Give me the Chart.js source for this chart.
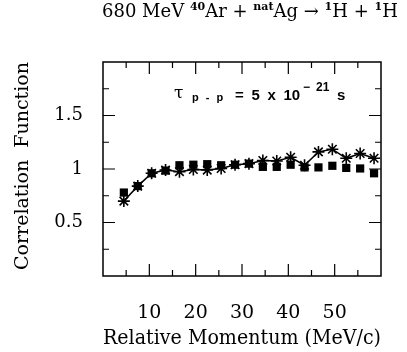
<!DOCTYPE html>
<html>
<head>
<meta charset="utf-8">
<script src="https://cdn.jsdelivr.net/npm/chart.js@4"></script>
<style>
  html, body { margin: 0; padding: 0; background: #fff; }
  #wrap { position: relative; width: 407px; height: 352px; }
  #title { position: absolute; left: 102px; top: -1px; font-family: "DejaVu Serif", serif; font-size: 18px; color: #000; white-space: nowrap; line-height: 24px; }
  #title sup { font-size: 11px; font-weight: bold; vertical-align: 7px; line-height: 0; }
  .n { position: absolute; white-space: nowrap; line-height: 1; color: #000; font-family: "Liberation Sans", sans-serif; font-weight: bold; }
  canvas { position: absolute; left: 0; top: 0; }
</style>
</head>
<body>
<div id="wrap">
  <canvas id="c" width="407" height="352"></canvas>
  <div id="title">680 MeV <sup>40</sup>Ar + <sup>nat</sup>Ag → <sup>1</sup>H + <sup>1</sup>H</div>
  <span class="n" style="left:174px;top:84px;font-family:'DejaVu Serif',serif;font-weight:normal;font-size:17px;">τ</span>
  <span class="n" style="left:192px;top:92px;font-size:11px;word-spacing:4px;">p - p</span>
  <span class="n" style="left:235px;top:87px;font-size:15px;word-spacing:3.5px;">= 5 x 10</span>
  <span class="n" style="left:303px;top:81px;font-size:12px;">−</span>
  <span class="n" style="left:316px;top:81px;font-size:12px;">21</span>
  <span class="n" style="left:337px;top:87px;font-size:15px;">s</span>
</div>
<script>
const momentum = [4.5, 7.5, 10.5, 13.5, 16.5, 19.5, 22.5, 25.5, 28.5, 31.5, 34.5, 37.5, 40.5, 43.5, 46.5, 49.5, 52.5, 55.5, 58.5];
const dataSquares = [0.78, 0.84, 0.96, 0.985, 1.035, 1.04, 1.045, 1.035, 1.04, 1.05, 1.02, 1.02, 1.04, 1.015, 1.015, 1.03, 1.01, 1.005, 0.96];
const modelCrosses = [0.70, 0.84, 0.96, 0.99, 0.975, 0.995, 0.99, 1.005, 1.04, 1.05, 1.08, 1.075, 1.11, 1.035, 1.16, 1.185, 1.10, 1.145, 1.10];
const xTickLabels = [10, 20, 30, 40, 50];
const yTickLabels = [0.5, 1, 1.5];

const frameTicks = {
  id: 'frameTicks',
  afterDraw(chart) {
    const ctx = chart.ctx, a = chart.chartArea;
    const xs = chart.scales.x, ys = chart.scales.y;
    ctx.save();
    ctx.strokeStyle = '#000';
    ctx.lineWidth = 1.5;
    ctx.strokeRect(a.left, a.top, a.right - a.left, a.bottom - a.top);
    ctx.lineWidth = 1.2;
    ctx.beginPath();
    for (let v = 5; v < 60; v += 5) {
      const px = xs.getPixelForValue(v);
      const len = (v % 10 === 0) ? 12 : 6;
      ctx.moveTo(px, a.bottom); ctx.lineTo(px, a.bottom - len);
      ctx.moveTo(px, a.top); ctx.lineTo(px, a.top + len);
    }
    for (let i = 1; i < 8; i++) {
      const v = i * 0.25;
      const py = ys.getPixelForValue(v);
      const len = (i % 2 === 0) ? 12 : 6;
      ctx.moveTo(a.left, py); ctx.lineTo(a.left + len, py);
      ctx.moveTo(a.right, py); ctx.lineTo(a.right - len, py);
    }
    ctx.stroke();
    ctx.restore();
  }
};

const serif = "'DejaVu Serif', serif";
new Chart(document.getElementById('c'), {
  type: 'line',
  data: {
    datasets: [
      {
        label: 'model',
        data: momentum.map((x, i) => ({x, y: modelCrosses[i]})),
        borderColor: '#000',
        borderWidth: 1.5,
        pointStyle: 'star',
        pointRadius: 6,
        pointBorderWidth: 1.6,
        pointBorderColor: '#000',
        fill: false,
        tension: 0,
        order: 2
      },
      {
        label: 'data',
        data: momentum.map((x, i) => ({x, y: dataSquares[i]})),
        showLine: false,
        pointStyle: 'rect',
        pointRadius: 5.8,
        pointBackgroundColor: '#000',
        pointBorderColor: '#000',
        pointBorderWidth: 0,
        order: 1
      }
    ]
  },
  options: {
    responsive: false,
    animation: false,
    events: [],
    layout: { padding: { left: 0, right: 9, top: 62, bottom: 0 } },
    plugins: { legend: { display: false }, tooltip: { enabled: false }, title: { display: false } },
    scales: {
      x: {
        type: 'linear', min: 0, max: 60,
        grid: { display: false, drawTicks: false },
        border: { display: false },
        ticks: {
          stepSize: 10, padding: 26, color: '#000',
          font: { family: serif, size: 19 },
          maxRotation: 0, autoSkip: false,
          callback: v => xTickLabels.includes(v) ? String(v) : ''
        },
        title: { display: true, text: 'Relative Momentum (MeV/c)', color: '#000', font: { family: serif, size: 20 }, padding: { top: 0, bottom: 1 } },
        afterFit: s => { s.height = 76; }
      },
      y: {
        type: 'linear', min: 0, max: 2,
        grid: { display: false, drawTicks: false },
        border: { display: false },
        ticks: {
          stepSize: 0.5, padding: 20, color: '#000',
          font: { family: serif, size: 18 },
          callback: v => yTickLabels.includes(v) ? String(v) : ''
        },
        title: { display: true, text: ' Correlation  Function', color: '#000', font: { family: serif, size: 19 }, padding: { top: 12, bottom: 0 } },
        afterFit: s => { s.width = 103; }
      }
    }
  },
  plugins: [frameTicks]
});
</script>
</body>
</html>
